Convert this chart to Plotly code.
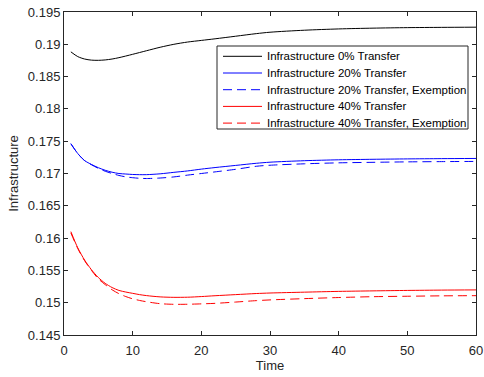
import plotly.graph_objects as go

# ---- data ----
t_black = [1, 2, 3, 4, 5, 6, 7, 8, 10, 12, 14, 16, 18, 20, 22, 25, 28, 30, 35, 40, 45, 50, 55, 60]
infra_0 = [0.18883, 0.18810, 0.18772, 0.18755, 0.18752, 0.18758, 0.18772, 0.18793, 0.18845,
           0.18900, 0.18954, 0.19000, 0.19035, 0.19060, 0.19085, 0.19125, 0.19165, 0.19187,
           0.19218, 0.19238, 0.19250, 0.19258, 0.19262, 0.19265]

t_lines = [1, 2, 3, 4, 5, 6, 7, 8, 9, 10, 11, 12, 14, 16, 18, 20, 22, 25, 28, 30, 35, 40, 45, 50, 55, 60]
infra_20 = [0.17461, 0.17310, 0.17200, 0.17140, 0.17090, 0.17050, 0.17020, 0.17000, 0.16992,
            0.16985, 0.16982, 0.16982, 0.16995, 0.17018, 0.17040, 0.17068, 0.17092, 0.17125,
            0.17158, 0.17175, 0.17198, 0.17212, 0.17220, 0.17226, 0.17230, 0.17233]
infra_20_ex = [0.17461, 0.17310, 0.17200, 0.17135, 0.17080, 0.17035, 0.17000, 0.16970, 0.16948,
               0.16935, 0.16926, 0.16922, 0.16930, 0.16947, 0.16975, 0.17000, 0.17025, 0.17065,
               0.17112, 0.17128, 0.17150, 0.17165, 0.17173, 0.17180, 0.17184, 0.17187]
infra_40 = [0.16100, 0.15850, 0.15660, 0.15510, 0.15390, 0.15300, 0.15235, 0.15190, 0.15165,
            0.15145, 0.15125, 0.15110, 0.15090, 0.15083, 0.15085, 0.15095, 0.15108, 0.15125,
            0.15142, 0.15150, 0.15163, 0.15175, 0.15183, 0.15190, 0.15195, 0.15198]
infra_40_ex = [0.16080, 0.15840, 0.15650, 0.15500, 0.15370, 0.15280, 0.15200, 0.15140, 0.15095,
               0.15060, 0.15035, 0.15015, 0.14985, 0.14975, 0.14976, 0.14982, 0.14990, 0.15010,
               0.15032, 0.15043, 0.15063, 0.15080, 0.15093, 0.15100, 0.15106, 0.15109]

names = ["Infrastructure 0% Transfer", "Infrastructure 20% Transfer",
         "Infrastructure 20% Transfer, Exemption", "Infrastructure 40% Transfer",
         "Infrastructure 40% Transfer, Exemption"]

y_ticks = [0.145, 0.15, 0.155, 0.16, 0.165, 0.17, 0.175, 0.18, 0.185, 0.19, 0.195]
y_tick_text = ["0.145", "0.15", "0.155", "0.16", "0.165", "0.17", "0.175", "0.18", "0.185", "0.19", "0.195"]
x_ticks = [0, 10, 20, 30, 40, 50, 60]

series = [
    (t_black, infra_0, "#000000", "solid"),
    (t_lines, infra_20, "#0000FF", "solid"),
    (t_lines, infra_20_ex, "#0000FF", "9px,5px"),
    (t_lines, infra_40, "#FF0000", "solid"),
    (t_lines, infra_40_ex, "#FF0000", "9px,5px"),
]

W, H = 484, 377
ML, MR, MT, MB = 64, 8, 12, 42
PW, PH = W - ML - MR, H - MT - MB

fig = go.Figure()
for (tx, ys, col, dash), nm in zip(series, names):
    fig.add_trace(go.Scatter(x=tx, y=ys, mode="lines", name=nm, showlegend=False,
                             line=dict(color=col, width=1, dash=dash, shape="spline", smoothing=0.8)))

axis_col = "#262626"

# ---- MATLAB-style legend box (layout, in paper coordinates) ----
def px_x(p):
    return (p - ML) / PW

def px_y(p):
    return (H - MB - p) / PH

box_l, box_r, box_t, box_b = 217, 468, 46, 129
row0, row_step = 56.3, 16.7
fig.add_shape(type="rect", xref="paper", yref="paper", layer="above",
              x0=px_x(box_l), x1=px_x(box_r), y0=px_y(box_b), y1=px_y(box_t),
              line=dict(color=axis_col, width=1), fillcolor="white")
for i, ((_, _, col, dash), nm) in enumerate(zip(series, names)):
    yy = px_y(row0 + i * row_step)
    fig.add_shape(type="line", xref="paper", yref="paper", layer="above",
                  x0=px_x(223), x1=px_x(262), y0=yy, y1=yy,
                  line=dict(color=col, width=1, dash=dash))
    fig.add_annotation(text=nm, xref="paper", yref="paper", x=px_x(265), y=yy,
                       xanchor="left", yanchor="middle", showarrow=False,
                       font=dict(size=11.5, color="#000000"))

fig.update_layout(
    width=W, height=H,
    margin=dict(l=ML, r=MR, t=MT, b=MB),
    paper_bgcolor="white", plot_bgcolor="white",
    font=dict(family="Liberation Sans, Arial, sans-serif", size=13, color=axis_col),
    showlegend=False,
    xaxis=dict(range=[0, 60], tickvals=x_ticks, ticks="inside", ticklen=4,
               tickcolor=axis_col, showline=True, linecolor=axis_col, linewidth=1,
               mirror="ticks", showgrid=False, zeroline=False, ticklabelstandoff=3,
               automargin=False,
               title=dict(text="Time", standoff=3, font=dict(size=13))),
    yaxis=dict(range=[0.145, 0.195], tickvals=y_ticks, ticktext=y_tick_text,
               ticks="inside", ticklen=4, tickcolor=axis_col, showline=True,
               linecolor=axis_col, linewidth=1, mirror="ticks", showgrid=False,
               zeroline=False, automargin=False,
               title=dict(text="Infrastructure", standoff=6, font=dict(size=13))),
)

fig.write_html("out.html")
